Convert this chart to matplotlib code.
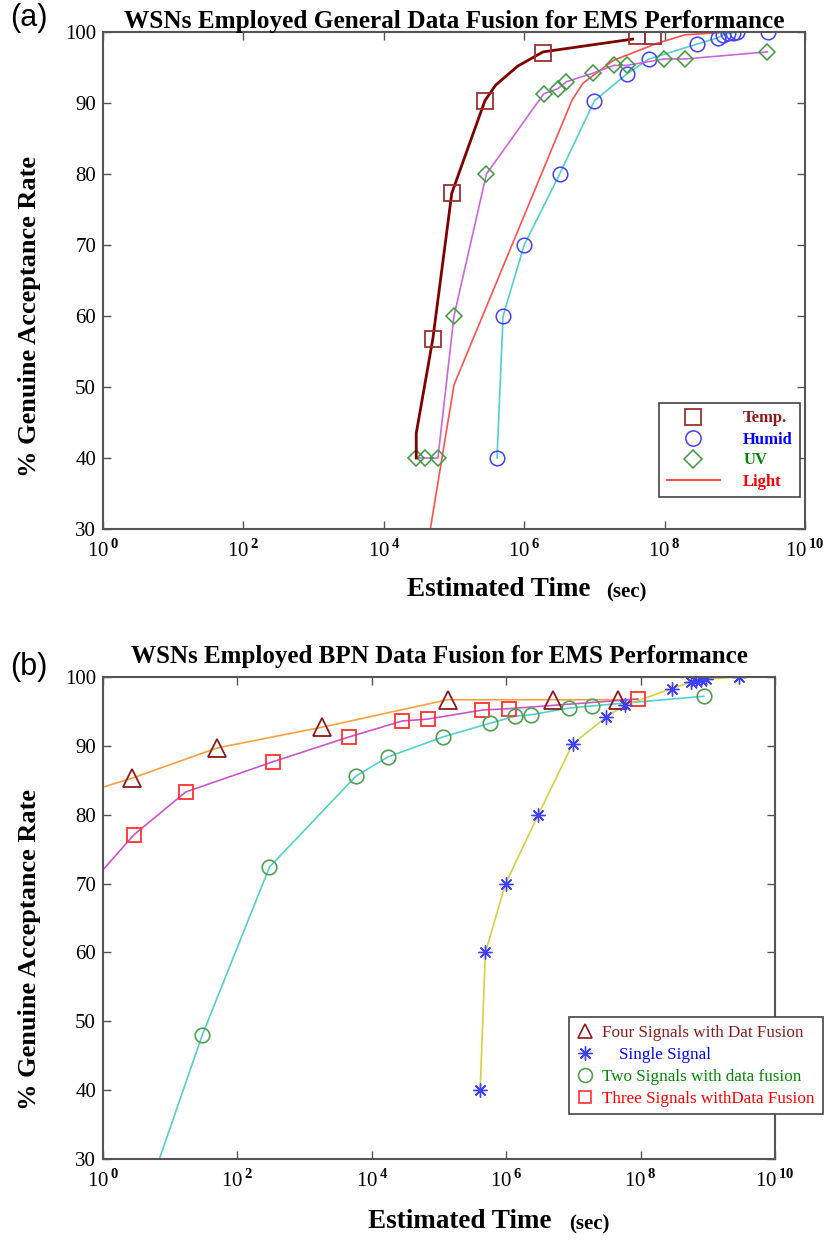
import matplotlib
matplotlib.use("Agg")
from matplotlib import pyplot as plt
from matplotlib import rcParams
from matplotlib.lines import Line2D
from matplotlib.ticker import FuncFormatter, NullLocator
import numpy as np

rcParams["font.family"] = "serif"
rcParams["font.serif"] = ["Liberation Serif", "DejaVu Serif"]
rcParams["mathtext.fontset"] = "custom"
rcParams["mathtext.rm"] = "Liberation Serif"
rcParams["mathtext.bf"] = "Liberation Serif:bold"

W, H = 830, 1241

# ---- panel (a): general data fusion ----
temp_x = [2.9e4, 2.9e4, 5.0e4, 9.3e4, 2.75e5, 3.9e5, 8.1e5, 1.86e6, 3.5e7]
temp_y = [40, 43.5, 56.8, 77.3, 90.3, 92.5, 95.2, 97.2, 99.0]
temp_mark_x = [5.0e4, 9.3e4, 2.75e5, 1.86e6, 4.1e7, 6.8e7]
temp_mark_y = [56.8, 77.3, 90.3, 97.0, 99.5, 99.5]

humid_x = [4.1e5, 5.0e5, 1.0e6, 3.2e6, 1.0e7, 2.9e7, 6.0e7, 2.9e8, 5.8e8,
           6.8e8, 7.9e8, 9.3e8, 1.07e9, 2.95e9]
humid_y = [40, 60, 70, 80, 90.3, 94.1, 96.2, 98.3, 99.2, 99.6, 99.8, 99.9,
           100, 100]

uv_x = [2.9e4, 3.9e4, 5.9e4, 1.0e5, 2.9e5, 1.9e6, 3.0e6, 4.0e6, 9.5e6, 1.9e7,
        2.9e7, 9.8e7, 1.95e8, 2.9e9]
uv_y = [40, 40, 40, 60, 80, 91.3, 92, 93, 94.2, 95.3, 95.3, 96.2, 96.2, 97.2]

light_x = [4.6e4, 1.0e5, 4.8e6, 6.9e6, 1.86e7, 7.8e7, 1.95e8, 8.5e8]
light_y = [30, 50.3, 90.4, 92.8, 96, 98.4, 99.6, 100]

# ---- panel (b): BPN data fusion ----
four_x = [1.0, 2.7, 50, 1.8e3, 1.35e5, 4.9e6, 4.6e7, 9.0e7]
four_y = [84.0, 85.3, 89.7, 92.7, 96.7, 96.7, 96.7, 96.8]

single_x = [4.1e5, 4.9e5, 9.8e5, 3.0e6, 9.8e6, 3.1e7, 5.8e7, 2.9e8, 5.6e8,
            6.6e8, 7.9e8, 9.3e8, 2.9e9]
single_y = [40, 60, 70, 80, 90.3, 94.2, 95.9, 98.3, 99.3, 99.4, 99.6, 99.7, 100]

two_x = [6.9, 30, 300, 5.8e3, 1.74e4, 1.15e5, 5.8e5, 1.35e6, 2.3e6, 8.7e6,
         1.9e7, 8.7e8]
two_y = [30, 48, 72.4, 85.6, 88.4, 91.3, 93.3, 94.3, 94.5, 95.5, 95.8, 97.2]

three_x = [1.0, 2.9, 17, 340, 4.6e3, 2.8e4, 6.9e4, 4.4e5, 1.1e6, 9.1e7]
three_y = [72.0, 77.1, 83.3, 87.7, 91.3, 93.6, 93.9, 95.2, 95.4, 96.8]

xticks = [1e0, 1e2, 1e4, 1e6, 1e8, 1e10]
yticks = [30, 40, 50, 60, 70, 80, 90, 100]

DARKRED = "#8b1a1a"
STAR = (8, 2, 0)


def px(x, y):
    return x / W, 1 - y / H


def style_axes(ax):
    ax.set_xscale("log")
    ax.set_xlim(1e0, 1e10)
    ax.set_ylim(30, 100)
    ax.set_xticks(xticks)
    ax.xaxis.set_minor_locator(NullLocator())
    ax.set_yticks(yticks)
    ax.xaxis.set_major_formatter(FuncFormatter(
        lambda v, p: r"$\mathrm{10}^{\,\mathbf{%d}}$" % round(np.log10(v))))
    ax.tick_params(direction="in", top=True, right=True, length=6, width=1,
                   color="#555555", labelsize=15)
    ax.tick_params(axis="x", pad=7)
    ax.tick_params(axis="y", pad=5)
    for s in ax.spines.values():
        s.set_color("#555555")
        s.set_linewidth(1.5)


fig = plt.figure(figsize=(W / 100, H / 100), dpi=100)

# panel (a)
ax1 = fig.add_axes([103 / W, 1 - 529 / H, 702 / W, 497 / H])
style_axes(ax1)
ax1.plot(light_x, light_y, color="#ff5050", lw=1.2)
ax1.plot(humid_x, humid_y, color="#50d0d0", lw=1.2)
ax1.plot(humid_x, humid_y, ls="none", marker="o", ms=10.5, mfc="none",
         mec="#4040ff", mew=1.1)
ax1.plot(uv_x, uv_y, color="#cc66dd", lw=1.2)
ax1.plot(uv_x, uv_y, ls="none", marker="D", ms=8, mfc="none", mec="#3c9a3c",
         mew=1.1)
ax1.plot(temp_x, temp_y, color="#800000", lw=2)
ax1.plot(temp_mark_x, temp_mark_y, ls="none", marker="s", ms=12, mfc="none",
         mec="#9b3030", mew=1.3)
ax1.set_title("WSNs Employed General Data Fusion for EMS Performance",
              fontsize=18.2, fontweight="bold", pad=3)
ax1.set_ylabel("% Genuine Acceptance Rate", fontsize=19, fontweight="bold")
ax1.yaxis.set_label_coords(-0.088, 0.427)

h1 = [Line2D([0], [0], ls="none", marker="s", ms=11, mfc="none",
             mec="#9b3030", mew=1.3),
      Line2D([0], [0], ls="none", marker="o", ms=11, mfc="none",
             mec="#4040ff", mew=1.1),
      Line2D([0], [0], ls="none", marker="D", ms=9, mfc="none",
             mec="#3c9a3c", mew=1.1),
      Line2D([0], [0], color="#ff5050", lw=1.5)]
leg1 = ax1.legend(h1, ["Temp.", "Humid", "UV", "Light"],
                  labelcolor=[DARKRED, "#0000ff", "#008800", "#ff0000"],
                  prop={"weight": "bold", "size": 12},
                  loc="upper left", bbox_to_anchor=px(659, 403),
                  bbox_transform=fig.transFigure, borderaxespad=0,
                  fancybox=False, edgecolor="#444444", framealpha=1,
                  borderpad=0.45, labelspacing=0.3, handlelength=3.2,
                  handletextpad=1.4)
leg1.get_frame().set_linewidth(1.2)

# panel (b)
ax2 = fig.add_axes([103 / W, 1 - 1159 / H, 672 / W, 482 / H])
style_axes(ax2)
ax2.plot(four_x, four_y, color="#ffa040", lw=1.2)
ax2.plot(three_x, three_y, color="#cc55cc", lw=1.2)
ax2.plot(two_x, two_y, color="#50d0d0", lw=1.2)
ax2.plot(single_x, single_y, color="#d4d040", lw=1.2)
ax2.plot(four_x[1:-1], four_y[1:-1], ls="none", marker="^", ms=13,
         mfc="none", mec=DARKRED, mew=1.3)
ax2.plot(three_x[1:], three_y[1:], ls="none", marker="s", ms=10, mfc="none",
         mec="#ff3030", mew=1.3)
ax2.plot(two_x[1:], two_y[1:], ls="none", marker="o", ms=10.5, mfc="none",
         mec="#50a050", mew=1.2)
ax2.plot(single_x, single_y, ls="none", marker=STAR, ms=10, mec="#4040ff",
         mew=1.0)
ax2.set_title("WSNs Employed BPN Data Fusion for EMS Performance",
              fontsize=18, fontweight="bold", pad=10)
ax2.set_ylabel("% Genuine Acceptance Rate", fontsize=19, fontweight="bold")
ax2.yaxis.set_label_coords(-0.092, 0.434)

h2 = [Line2D([0], [0], ls="none", marker="^", ms=10, mfc="none",
             mec=DARKRED, mew=1.2),
      Line2D([0], [0], ls="none", marker=STAR, ms=10, mec="#4040ff",
             mew=1.0),
      Line2D([0], [0], ls="none", marker="o", ms=10, mfc="none",
             mec="#50a050", mew=1.2),
      Line2D([0], [0], ls="none", marker="s", ms=9, mfc="none",
             mec="#ff3030", mew=1.2)]
leg2 = ax2.legend(h2, ["Four Signals with Dat Fusion", "    Single Signal",
                       "Two Signals with data fusion",
                       "Three Signals withData Fusion"],
                  labelcolor=[DARKRED, "#0000ff", "#008800", "#ff0000"],
                  prop={"size": 12.3}, loc="upper left",
                  bbox_to_anchor=px(569, 1017),
                  bbox_transform=fig.transFigure, borderaxespad=0,
                  fancybox=False, edgecolor="#444444", framealpha=1,
                  borderpad=0.45, labelspacing=0.35, handlelength=1.0,
                  handletextpad=0.5)
leg2.get_frame().set_linewidth(1.2)

# x labels (big bold part + smaller unit)
for (x0, x1, y) in [(407, 606, 590), (368, 569, 1222)]:
    fig.text(*px(x0, y), "Estimated Time", fontsize=19.5, fontweight="bold",
             ha="left", va="center")
    fig.text(*px(x1, y + 2), "(sec)", fontsize=15, fontweight="bold",
             ha="left", va="center")

fig.text(*px(10, 18), "(a)", family="Liberation Sans", fontsize=22,
         ha="left", va="center")
fig.text(*px(10, 667), "(b)", family="Liberation Sans", fontsize=22,
         ha="left", va="center")

fig.savefig("out.png", dpi=100)
